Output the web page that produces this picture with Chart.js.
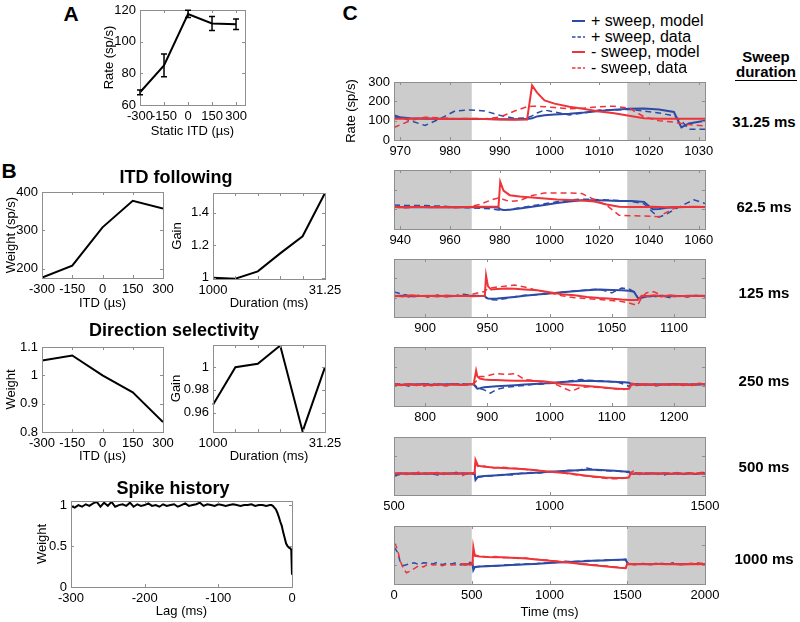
<!DOCTYPE html>
<html>
<head>
<meta charset="utf-8">
<script src="https://cdn.jsdelivr.net/npm/chart.js@4.4.1/dist/chart.umd.min.js"></script>
<style>
body { margin: 0; width: 800px; height: 622px; position: relative; overflow: hidden; background: #fff;
       font-family: "Liberation Sans", Arial, Helvetica, sans-serif; color: #000; }
canvas { position: absolute; }
.t { position: absolute; transform: translate(-50%, -50%); white-space: nowrap; line-height: 1; }
</style>
</head>
<body>
<script>
// ---- panel A: static ITD tuning
const itdA = [-300, -150, 0, 150, 300];
const rateA = [68, 85, 117.5, 111.5, 111];
const errA = [1.5, 7.2, 2.3, 4.4, 3.3];

// ---- panel B
const itdB = [-300, -150, 0, 150, 300];
const itdWeight = [177, 208, 308, 377, 357];
const durCats = ['1000', '500', '250', '125', '62.5', '31.25'];
const itdGain = [1.0, 0.995, 1.04, 1.15, 1.255, 1.52];
const dirWeight = [1.052, 1.07, 1.0, 0.94, 0.835];
const dirGain = [0.967, 1.0, 1.003, 1.019, 0.9435, 1.0];
const lagB = [-300, -295, -290, -285, -280, -275, -270, -265, -260, -255,
              -250, -245, -240, -235, -230, -225, -220, -215, -210, -205,
              -200, -195, -190, -185, -180, -175, -170, -165, -160, -155,
              -150, -145, -140, -135, -130, -125, -120, -115, -110, -105,
              -100, -95, -90, -85, -80, -75, -70, -65, -60, -55,
              -50, -45, -40, -35, -30,
              -28, -26, -24, -22, -20, -18, -16, -14, -12, -10, -8, -6, -4, -2, -1, 0];
const histWeight = [0.99, 0.97, 1.0, 0.98, 1.01, 0.99, 1.02, 1.04, 0.98, 1.03,
                    0.99, 1.04, 0.98, 1.0, 1.01, 0.99, 1.03, 0.98, 1.01, 0.99,
                    1.0, 1.02, 0.99, 1.0, 0.98, 1.01, 0.99, 1.0, 1.01, 0.98,
                    1.0, 1.02, 0.99, 1.0, 1.01, 1.03, 0.99, 1.01, 1.0, 0.99,
                    1.01, 1.0, 0.99, 1.0, 1.01, 1.0, 0.99, 1.0, 1.0, 1.01,
                    0.99, 1.0, 1.0, 0.99, 1.0,
                    1.0, 0.99, 0.97, 0.95, 0.91, 0.86, 0.8, 0.75, 0.67, 0.6, 0.53, 0.5, 0.48, 0.47, 0.45, 0.15];

// ---- panel C: sweep responses (bm = + sweep model, bd = + sweep data, rm/rd = - sweep)
const durations = [31.25, 62.5, 125, 250, 500, 1000];
const legendNames = ['+ sweep, model', '+ sweep, data', '- sweep, model', '- sweep, data'];

const tC1 = [968.75, 972, 975, 978, 981, 984, 987, 990, 993, 995.5, 996.5, 997.5, 999, 1001, 1004, 1007, 1010, 1013, 1016, 1019, 1022, 1025, 1026.5, 1028, 1031.25];
const bmC1 = [120, 112, 110, 110, 109, 108, 108, 107, 107, 108, 112, 122, 128, 132, 136, 142, 150, 156, 162, 163, 158, 145, 65, 85, 100];
const bdC1 = [129, 100, 75, 110, 150, 155, 150, 128, 112, 115, 125, 140, 155, 145, 130, 140, 155, 155, 158, 150, 140, 125, 100, 55, 55];
const rmC1 = [110, 110, 112, 109, 110, 110, 108, 106, 105, 106, 282, 245, 205, 188, 172, 160, 148, 138, 125, 112, 110, 110, 110, 110, 110];
const rdC1 = [65, 100, 118, 115, 110, 112, 110, 118, 150, 172, 175, 175, 172, 168, 162, 165, 172, 175, 165, 120, 100, 92, 85, 80, 72];

const tC2 = [937.5, 942, 947, 952, 957, 962, 967, 972, 977, 979.5, 980.2, 981.5, 984, 988, 993, 998, 1003, 1008, 1013, 1018, 1023, 1028, 1033, 1038, 1041.5, 1044, 1047, 1051, 1055, 1058, 1062.5];
const bmC2 = [112, 111, 112, 110, 112, 111, 112, 111, 112, 108, 100, 97, 98, 104, 113, 122, 132, 140, 146, 146, 145, 143, 142, 138, 100, 102, 108, 110, 112, 112, 112];
const bdC2 = [122, 120, 120, 118, 116, 112, 108, 106, 102, 97, 95, 96, 100, 108, 118, 128, 138, 148, 152, 150, 148, 145, 140, 128, 85, 60, 75, 105, 130, 148, 130];
const rmC2 = [112, 110, 113, 111, 112, 110, 112, 113, 113, 113, 240, 195, 172, 165, 160, 155, 150, 147, 145, 140, 125, 113, 112, 112, 113, 112, 111, 112, 112, 113, 112];
const rdC2 = [112, 108, 113, 110, 112, 108, 112, 125, 150, 158, 158, 150, 140, 145, 170, 183, 183, 183, 180, 150, 120, 70, 67, 66, 64, 62, 85, 110, 112, 110, 112];

const tC3 = [875, 882, 889, 896, 903, 910, 917, 924, 931, 938, 944, 948, 949, 950.5, 953, 958, 965, 972, 980, 990, 1000, 1010, 1020, 1030, 1040, 1050, 1058, 1064, 1068, 1071, 1074, 1078, 1084, 1090, 1097, 1104, 1111, 1118, 1125];
const bmC3 = [108, 110, 107, 109, 108, 110, 107, 109, 108, 110, 108, 109, 100, 96, 95, 96, 100, 104, 110, 116, 122, 128, 133, 138, 142, 140, 138, 136, 130, 98, 100, 106, 108, 110, 107, 109, 108, 110, 108];
const bdC3 = [130, 118, 108, 112, 102, 112, 106, 110, 118, 110, 112, 108, 102, 95, 90, 88, 96, 105, 112, 115, 122, 128, 135, 140, 145, 125, 150, 145, 130, 100, 98, 108, 104, 110, 100, 110, 104, 110, 105];
const rmC3 = [110, 106, 112, 108, 110, 106, 111, 108, 110, 107, 108, 110, 215, 160, 142, 145, 148, 146, 142, 138, 128, 118, 112, 104, 98, 94, 90, 88, 88, 88, 110, 108, 112, 106, 112, 107, 110, 108, 110];
const rdC3 = [105, 112, 100, 114, 104, 112, 105, 110, 108, 118, 128, 132, 140, 145, 150, 155, 160, 165, 155, 138, 125, 110, 100, 95, 90, 85, 80, 72, 65, 62, 100, 125, 130, 112, 105, 112, 104, 112, 106];

const tC4 = [750, 762, 774, 786, 798, 810, 822, 834, 846, 858, 870, 878, 882, 884, 888, 895, 905, 915, 930, 945, 960, 975, 990, 1005, 1020, 1035, 1050, 1065, 1080, 1095, 1110, 1120, 1128, 1132, 1140, 1155, 1170, 1185, 1200, 1215, 1230, 1240, 1250];
const bmC4 = [112, 108, 111, 109, 112, 108, 111, 109, 112, 108, 110, 110, 95, 88, 90, 95, 98, 100, 103, 106, 109, 112, 115, 118, 122, 125, 127, 128, 126, 124, 122, 121, 118, 110, 112, 108, 111, 109, 112, 108, 111, 109, 110];
const bdC4 = [105, 112, 100, 110, 106, 114, 104, 110, 108, 115, 106, 112, 100, 92, 88, 82, 65, 85, 95, 100, 104, 110, 112, 116, 120, 128, 135, 130, 128, 125, 120, 110, 100, 112, 104, 112, 102, 110, 106, 114, 104, 110, 108];
const rmC4 = [110, 105, 112, 106, 110, 104, 110, 106, 110, 107, 110, 110, 180, 150, 140, 135, 132, 132, 130, 128, 128, 127, 126, 120, 112, 108, 104, 100, 96, 92, 88, 86, 88, 110, 108, 112, 106, 110, 108, 112, 106, 114, 110];
const rdC4 = [108, 114, 104, 110, 100, 112, 106, 102, 112, 104, 110, 112, 125, 140, 150, 150, 158, 165, 160, 165, 135, 130, 120, 118, 95, 75, 95, 98, 94, 90, 86, 84, 90, 115, 112, 104, 112, 108, 112, 104, 110, 116, 108];

const tC5 = [500, 520, 540, 560, 580, 600, 620, 640, 660, 680, 700, 720, 740, 755, 759, 762, 770, 790, 820, 850, 880, 910, 940, 970, 1000, 1030, 1060, 1090, 1120, 1150, 1180, 1210, 1240, 1255, 1262, 1270, 1290, 1310, 1330, 1350, 1370, 1390, 1410, 1430, 1450, 1470, 1490, 1500];
const bmC5 = [108, 112, 110, 113, 109, 112, 110, 113, 109, 112, 110, 112, 111, 112, 112, 78, 95, 98, 101, 104, 108, 111, 114, 117, 120, 123, 126, 128, 130, 130, 128, 125, 122, 120, 112, 110, 113, 109, 112, 110, 113, 109, 112, 110, 113, 109, 112, 110];
const bdC5 = [100, 106, 112, 104, 116, 108, 110, 104, 114, 108, 118, 106, 110, 108, 110, 85, 92, 96, 100, 106, 104, 112, 116, 114, 122, 120, 128, 125, 140, 128, 126, 124, 120, 118, 110, 118, 106, 114, 108, 112, 104, 116, 110, 106, 114, 108, 120, 110];
const rmC5 = [112, 110, 113, 109, 112, 110, 114, 110, 112, 109, 113, 110, 112, 111, 112, 182, 152, 146, 142, 140, 137, 134, 130, 126, 120, 116, 112, 106, 100, 95, 90, 88, 88, 90, 112, 110, 113, 109, 112, 110, 113, 110, 112, 109, 113, 110, 112, 110];
const rdC5 = [110, 114, 106, 112, 118, 108, 112, 116, 106, 114, 110, 100, 116, 112, 115, 160, 148, 150, 140, 144, 138, 136, 128, 128, 118, 118, 110, 104, 98, 92, 86, 84, 86, 92, 118, 124, 108, 114, 110, 106, 114, 110, 116, 108, 112, 110, 118, 112];

const tC6 = [0, 10, 25, 40, 60, 80, 100, 130, 160, 190, 220, 250, 280, 310, 340, 370, 400, 430, 460, 490, 505, 510, 520, 550, 600, 650, 700, 750, 800, 850, 900, 950, 1000, 1050, 1100, 1150, 1200, 1250, 1300, 1350, 1400, 1450, 1490, 1500, 1510, 1550, 1600, 1650, 1700, 1750, 1800, 1850, 1900, 1950, 2000];
const bmC6 = [null, null, null, null, null, null, null, null, null, null, null, null, null, null, null, null, null, 104, 100, 106, 104, 72, 88, 90, 92, 94, 96, 98, 100, 102, 104, 106, 108, 111, 113, 115, 117, 119, 121, 122, 124, 125, 126, 108, 104, 103, 104, 102, 104, 103, 104, 102, 103, 104, 103];
const bdC6 = [190, 180, 160, 115, 95, 100, 105, 110, 100, 110, 108, 104, 112, 100, 108, 104, 110, 98, 106, 112, 100, 80, 88, 90, 94, 92, 98, 100, 102, 104, 103, 108, 110, 112, 118, 116, 118, 122, 120, 124, 126, 124, 128, 110, 104, 100, 106, 102, 108, 104, 110, null, null, null, null];
const rmC6 = [null, null, null, null, null, null, null, null, null, null, null, null, null, null, null, null, null, 102, 104, 100, 103, 190, 145, 142, 140, 139, 138, 136, 134, 132, 128, 124, 120, 116, 112, 108, 104, 100, 96, 92, 88, 84, 82, 104, 102, 104, 102, 104, 103, 102, 104, 102, 104, 102, 103];
const rdC6 = [200, 205, 170, 120, 80, 58, 65, 80, 95, 88, 105, 98, 100, 95, 102, 98, 100, 104, 100, 108, 112, 150, 150, 144, 140, 142, 136, 138, 132, 134, 128, 126, 122, 118, 114, 110, 106, 102, 98, 94, 90, 86, 82, 112, 106, 102, 104, 100, 106, 102, 104, 100, 106, 110, 104];

const xTicksC = [
  [970, 980, 990, 1000, 1010, 1020, 1030],
  [940, 960, 980, 1000, 1020, 1040, 1060],
  [900, 950, 1000, 1050, 1100],
  [800, 900, 1000, 1100, 1200],
  [500, 1000, 1500],
  [0, 500, 1000, 1500, 2000]
];
const yTicksC = [0, 100, 200, 300];

const BLUE = 'rgb(44,74,166)';
const RED = 'rgb(238,52,56)';
const BOX = '#8e8e8e';

Chart.defaults.font.family = '"Liberation Sans", Arial, Helvetica, sans-serif';
Chart.defaults.font.size = 13;
Chart.defaults.color = '#000';

// gray shading, box, inward ticks, error bars
function decor(shade, err) {
  return {
    id: 'decor',
    beforeDatasetsDraw(chart) {
      if (!shade) return;
      const {ctx, chartArea: a, scales: {x}} = chart;
      ctx.save();
      ctx.fillStyle = '#cccccc';
      shade.forEach(s => {
        const p0 = x.getPixelForValue(s[0]), p1 = x.getPixelForValue(s[1]);
        ctx.fillRect(p0, a.top, p1 - p0, a.bottom - a.top);
      });
      ctx.restore();
    },
    afterDatasetsDraw(chart) {
      const {ctx, chartArea: a, scales: {x, y}} = chart;
      ctx.save();
      ctx.strokeStyle = BOX;
      ctx.lineWidth = 1;
      ctx.beginPath();
      x.ticks.forEach(t => {
        const p = Math.round(x.getPixelForValue(t.value)) + 0.5;
        ctx.moveTo(p, a.bottom); ctx.lineTo(p, a.bottom - 3);
        ctx.moveTo(p, a.top); ctx.lineTo(p, a.top + 3);
      });
      y.ticks.forEach(t => {
        const p = Math.round(y.getPixelForValue(t.value)) + 0.5;
        ctx.moveTo(a.left, p); ctx.lineTo(a.left + 3, p);
        ctx.moveTo(a.right, p); ctx.lineTo(a.right - 3, p);
      });
      ctx.stroke();
      ctx.strokeRect(Math.round(a.left) + 0.5, Math.round(a.top) + 0.5,
                     Math.round(a.right - a.left), Math.round(a.bottom - a.top));
      if (err) {
        const meta = chart.getDatasetMeta(0);
        const d = chart.data.datasets[0].data;
        ctx.strokeStyle = '#000';
        ctx.lineWidth = 1.5;
        ctx.beginPath();
        meta.data.forEach((pt, i) => {
          const y0 = y.getPixelForValue(d[i].y - err[i]), y1 = y.getPixelForValue(d[i].y + err[i]);
          ctx.moveTo(pt.x, y0); ctx.lineTo(pt.x, y1);
          ctx.moveTo(pt.x - 3, y0); ctx.lineTo(pt.x + 3, y0);
          ctx.moveTo(pt.x - 3, y1); ctx.lineTo(pt.x + 3, y1);
        });
        ctx.stroke();
      }
      ctx.restore();
    }
  };
}

function axis(kind, o, size, title) {
  const ax = {
    type: o.type || 'linear',
    grid: {display: false, drawTicks: false},
    border: {display: false},
    ticks: {autoSkip: false, maxRotation: 0, minRotation: 0, padding: 4, callback: o.label || (v => String(v))},
    title: {display: !!title, text: title || '', padding: 0, font: {size: 13}}
  };
  if (ax.type === 'linear') {
    ax.min = o.min;
    ax.max = o.max;
    ax.bounds = 'data';
    ax.afterBuildTicks = a => { a.ticks = o.ticks.map(v => ({value: v})); };
  }
  ax.afterFit = kind === 'x'
    ? a => { a.height = size; a.paddingLeft = 0; a.paddingRight = 0; }
    : a => { a.width = size; a.paddingTop = 0; a.paddingBottom = 0; };
  return ax;
}

function plot(box, cfg) {
  const cl = box.yt !== undefined ? Math.round(box.yt - 8) : box.L - 44;
  const ct = box.T - 10, cr = box.R + 25;
  const cb = box.xt !== undefined ? box.xt + 8 : box.B + 24;
  const cv = document.createElement('canvas');
  cv.width = cr - cl;
  cv.height = cb - ct;
  cv.style.left = cl + 'px';
  cv.style.top = ct + 'px';
  document.body.appendChild(cv);
  new Chart(cv, {
    type: 'line',
    data: {labels: cfg.labels, datasets: cfg.datasets},
    options: {
      responsive: false,
      animation: false,
      devicePixelRatio: 1,
      layout: {padding: {left: 0, top: box.T - ct, right: cr - box.R, bottom: 0}},
      elements: {point: {radius: 0}, line: {tension: 0}},
      scales: {
        x: axis('x', cfg.x, cb - box.B, cfg.xTitle),
        y: axis('y', cfg.y, box.L - cl, cfg.yTitle)
      },
      plugins: {legend: {display: false}, tooltip: {enabled: false}}
    },
    plugins: [decor(cfg.shade, cfg.err)]
  });
}

const xy = (xs, ys) => xs.map((x, i) => ({x: x, y: ys[i]}));
const blk = data => ({data: data, borderColor: '#000', borderWidth: 2, pointRadius: 0});
const durLabel = (v, i) => (i === 0 || i === durCats.length - 1) ? durCats[i] : '';

// A
plot({L: 140, T: 10, R: 245, B: 105, yt: 110, xt: 131}, {
  datasets: [blk(xy(itdA, rateA))],
  x: {min: -300, max: 356, ticks: itdA},
  y: {min: 60, max: 120, ticks: [60, 80, 100, 120]},
  xTitle: 'Static ITD (\u00b5s)', yTitle: 'Rate (sp/s)', err: errA
});

// B: ITD following
plot({L: 42, T: 192, R: 163, B: 278, yt: 12, xt: 303}, {
  datasets: [blk(xy(itdB, itdWeight))],
  x: {min: -300, max: 300, ticks: itdB},
  y: {min: 176, max: 400, ticks: [200, 300, 400]},
  xTitle: 'ITD (\u00b5s)', yTitle: 'Weight (sp/s)'
});
plot({L: 213, T: 193, R: 325, B: 279, yt: 178, xt: 303}, {
  labels: durCats,
  datasets: [blk(itdGain)],
  x: {type: 'category', label: durLabel},
  y: {min: 0.993, max: 1.52, ticks: [1, 1.2, 1.4]},
  xTitle: 'Duration (ms)', yTitle: 'Gain'
});

// B: Direction selectivity
plot({L: 42, T: 347, R: 163, B: 432, yt: 12, xt: 456}, {
  datasets: [blk(xy(itdB, dirWeight))],
  x: {min: -300, max: 300, ticks: itdB},
  y: {min: 0.8, max: 1.1, ticks: [0.8, 0.9, 1, 1.1]},
  xTitle: 'ITD (\u00b5s)', yTitle: 'Weight'
});
plot({L: 213, T: 345, R: 325, B: 432, yt: 177, xt: 456}, {
  labels: durCats,
  datasets: [blk(dirGain)],
  x: {type: 'category', label: durLabel},
  y: {min: 0.943, max: 1.0195, ticks: [0.96, 0.98, 1]},
  xTitle: 'Duration (ms)', yTitle: 'Gain'
});

// B: Spike history
plot({L: 71, T: 501, R: 292, B: 587, yt: 43, xt: 611}, {
  datasets: [blk(xy(lagB, histWeight))],
  x: {min: -300, max: 0, ticks: [-300, -200, -100, 0]},
  y: {min: 0, max: 1.05, ticks: [0, 0.5, 1]},
  xTitle: 'Lag (ms)', yTitle: 'Weight'
});

// C
const cSeries = [
  [tC1, bmC1, bdC1, rmC1, rdC1],
  [tC2, bmC2, bdC2, rmC2, rdC2],
  [tC3, bmC3, bdC3, rmC3, rdC3],
  [tC4, bmC4, bdC4, rmC4, rdC4],
  [tC5, bmC5, bdC5, rmC5, rdC5],
  [tC6, bmC6, bdC6, rmC6, rdC6]
];
const cTops = [82, 170, 259, 347, 437, 526];
const cBottoms = [140, 229, 317, 406, 495, 584];

cSeries.forEach((s, k) => {
  const D = durations[k];
  const box = {L: 394, T: cTops[k], R: 705, B: cBottoms[k]};
  if (k === 0) box.yt = 352;
  if (k === 5) box.xt = 612;
  const [t, bm, bd, rm, rd] = s;
  plot(box, {
    datasets: [
      {data: xy(t, rm), borderColor: RED, borderWidth: 2},
      {data: xy(t, rd), borderColor: RED, borderWidth: 1.5, borderDash: [6, 4]},
      {data: xy(t, bm), borderColor: BLUE, borderWidth: 2},
      {data: xy(t, bd), borderColor: BLUE, borderWidth: 1.5, borderDash: [6, 4]}
    ],
    x: {min: 1000 - D, max: 1000 + D, ticks: xTicksC[k]},
    y: {min: 0, max: 300, ticks: yTicksC, label: k === 0 ? (v => String(v)) : (() => '')},
    xTitle: k === 5 ? 'Time (ms)' : '',
    yTitle: k === 0 ? 'Rate (sp/s)' : '',
    shade: [[1000 - D, 1000 - D / 2], [1000 + D / 2, 1000 + D]]
  });
});

// texts
function txt(s, x, y, css) {
  const d = document.createElement('div');
  d.className = 't';
  d.textContent = s;
  d.style.left = x + 'px';
  d.style.top = y + 'px';
  d.style.cssText += css || '';
  document.body.appendChild(d);
  return d;
}
txt('A', 71, 13, 'font-size:21px;font-weight:bold');
txt('B', 9, 170, 'font-size:21px;font-weight:bold');
txt('C', 350, 12, 'font-size:21px;font-weight:bold');
txt('ITD following', 176, 177, 'font-size:18px;font-weight:bold');
txt('Direction selectivity', 174, 330, 'font-size:18px;font-weight:bold');
txt('Spike history', 173, 488, 'font-size:18px;font-weight:bold');
txt('Sweep', 766, 56, 'font-size:15px;font-weight:bold');
txt('duration', 766, 71, 'font-size:15px;font-weight:bold');
const ul = document.createElement('div');
ul.style.cssText = 'position:absolute;left:735px;top:80px;width:62px;height:0;border-top:1px solid #000';
document.body.appendChild(ul);
const durY = [121, 206, 292, 380, 466, 558];
durations.forEach((d, i) => txt(d + ' ms', 764, durY[i], 'font-size:15px;font-weight:bold'));

// legend
const legColors = [BLUE, BLUE, RED, RED];
const legDash = [false, true, false, true];
const legY = [21, 36.5, 52, 67.5];
legendNames.forEach((name, i) => {
  const svg = document.createElementNS('http://www.w3.org/2000/svg', 'svg');
  svg.setAttribute('width', '13');
  svg.setAttribute('height', '4');
  svg.style.cssText = 'position:absolute;left:572px;top:' + (legY[i] - 2) + 'px';
  const ln = document.createElementNS('http://www.w3.org/2000/svg', 'line');
  ln.setAttribute('x1', '0'); ln.setAttribute('x2', '13');
  ln.setAttribute('y1', '2'); ln.setAttribute('y2', '2');
  ln.setAttribute('stroke', legColors[i]);
  ln.setAttribute('stroke-width', legDash[i] ? '1.5' : '2');
  if (legDash[i]) ln.setAttribute('stroke-dasharray', '3.5 2');
  svg.appendChild(ln);
  document.body.appendChild(svg);
  const d = txt(name, 591, legY[i], 'font-size:16px');
  d.style.transform = 'translate(0,-50%)';
});
</script>
</body>
</html>
